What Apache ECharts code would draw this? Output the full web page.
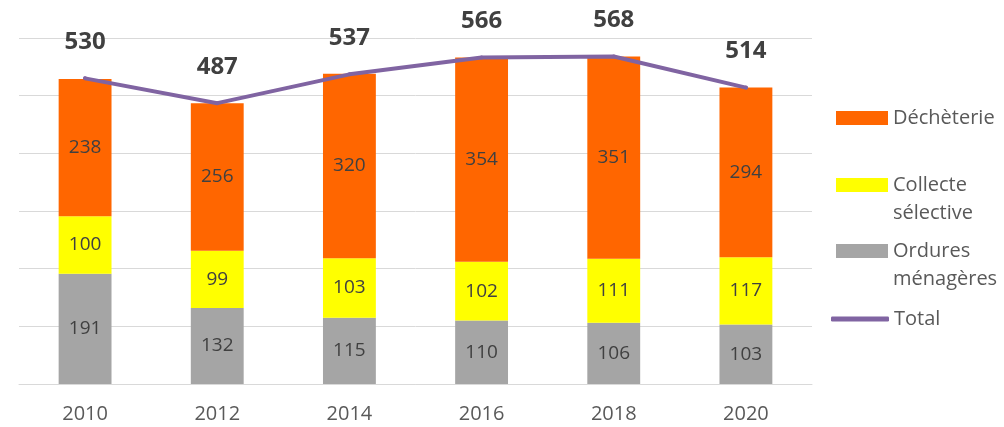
<!DOCTYPE html>
<html>
<head>
<meta charset="utf-8">
<script src="https://cdn.jsdelivr.net/npm/echarts@6/dist/echarts.min.js"></script>
<style>
  html, body { margin: 0; padding: 0; background: #fff; }
  #chart { width: 1004px; height: 427px; }
</style>
</head>
<body>
<div id="chart"></div>
<script>
const years = ['2010', '2012', '2014', '2016', '2018', '2020']
const ordures = [191, 132, 115, 110, 106, 103]
const collecte = [100, 99, 103, 102, 111, 117]
const decheterie = [238, 256, 320, 354, 351, 294]
const total = [530, 487, 537, 566, 568, 514]

const font = '"Open Sans", sans-serif'
const chart = echarts.init(document.getElementById('chart'))

const barLabel = {
  show: true,
  position: 'inside',
  color: '#404040',
  fontSize: 19,
  fontFamily: font
}

const legendText = {
  color: '#595959',
  fontSize: 20,
  fontFamily: font,
  lineHeight: 28
}

// leading empty line keeps the first line level with the icon
const twoLines = {
  'Collecte sélective': '\nCollecte\nsélective',
  'Ordures ménagères': '\nOrdures\nménagères'
}

function legendAt (name, left, top, opts) {
  return Object.assign({
    data: [name],
    orient: 'vertical',
    left: left,
    top: top,
    padding: 0,
    itemWidth: 52,
    itemHeight: 14,
    icon: 'rect',
    selectedMode: false,
    formatter: n => twoLines[n] || n,
    textStyle: legendText
  }, opts || {})
}

const option = {
  animation: false,
  grid: {
    left: 19,
    right: 192,
    top: 38,
    height: 346
  },
  legend: [
    legendAt('Déchèterie', 836, 104),
    legendAt('Collecte sélective', 836, 143),
    legendAt('Ordures ménagères', 836, 209),
    legendAt('Total', 831, 305, { itemWidth: 58, itemHeight: 5, icon: 'roundRect' })
  ],
  xAxis: {
    type: 'category',
    data: years,
    axisLine: { lineStyle: { color: '#d9d9d9', width: 1 } },
    axisTick: { show: false },
    axisLabel: { color: '#595959', fontSize: 20, fontFamily: font, margin: 20 }
  },
  yAxis: {
    type: 'value',
    min: 0,
    max: 600,
    interval: 100,
    axisLabel: { show: false },
    axisLine: { show: false },
    axisTick: { show: false },
    splitLine: { lineStyle: { color: '#d9d9d9', width: 1 } }
  },
  series: [
    {
      name: 'Ordures ménagères',
      type: 'bar',
      stack: 'dechets',
      barWidth: '40%',
      data: ordures,
      itemStyle: { color: '#a5a5a5' },
      label: barLabel
    },
    {
      name: 'Collecte sélective',
      type: 'bar',
      stack: 'dechets',
      data: collecte,
      itemStyle: { color: '#ffff00' },
      label: barLabel
    },
    {
      name: 'Déchèterie',
      type: 'bar',
      stack: 'dechets',
      data: decheterie,
      itemStyle: { color: '#ff6600' },
      label: barLabel
    },
    {
      name: 'Total',
      type: 'line',
      data: total,
      symbol: 'circle',
      symbolSize: 4,
      itemStyle: { color: '#8064a2' },
      lineStyle: { color: '#8064a2', width: 4, cap: 'round', join: 'round' },
      label: {
        show: true,
        position: 'top',
        distance: 22,
        color: '#404040',
        fontSize: 24,
        fontWeight: 'bold',
        fontFamily: font
      }
    }
  ]
}

chart.setOption(option)
</script>
</body>
</html>
